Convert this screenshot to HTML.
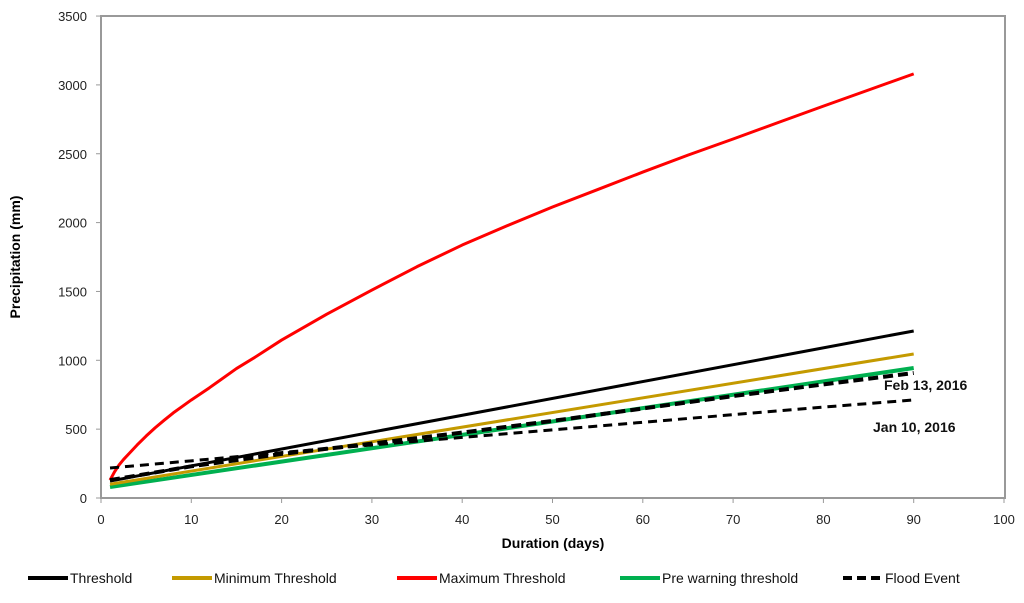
<!DOCTYPE html>
<html><head><meta charset="utf-8"><style>
body{margin:0;background:#fff;}
svg text{font-family:"Liberation Sans",sans-serif;}
</style></head><body>
<svg id="chart" width="1024" height="598">
<rect x="101" y="16" width="904" height="482" fill="none" stroke="#999" stroke-width="2"/>
<g id="axes"></g><g id="series"></g>
<text x="884" y="390" font-size="14" font-weight="bold" fill="#111">Feb 13,  2016</text>
<text x="873" y="432" font-size="14" font-weight="bold" fill="#111">Jan 10,  2016</text>
<text x="553" y="548" font-size="14" font-weight="bold" text-anchor="middle">Duration (days)</text>
<text transform="translate(20,257) rotate(-90)" font-size="14" font-weight="bold" text-anchor="middle">Precipitation (mm)</text>
<g id="legend"></g>
</svg>
<script>
const days = [1,1.5,2,2.5,3,4,5,6,7,8,9,10,12,15,17,20,25,30,35,40,45,50,55,60,65,70,75,80,85,90];
const maxT = [130,190,240,280,315,385,450,510,565,618,665,712,800,940,1020,1147,1335,1510,1680,1837,1978,2113,2240,2367,2490,2607,2727,2846,2963,3080];
const lineDays = [1,90];
const threshold = [123,1213];
const minT = [100,1046];
const preWarn = [80,944];
const febDays = [1,10,20,30,40,50,60,70,80,90];
const feb = [130,230,320,395,475,560,650,740,825,908];
const janDays = [1,10,20,30,40,50,60,70,80,90];
const jan = [218,270,330,385,440,495,550,605,660,712];
const xTicks = [0,10,20,30,40,50,60,70,80,90,100];
const yTicks = [0,500,1000,1500,2000,2500,3000,3500];
const legendLabels = ["Threshold","Minimum Threshold","Maximum Threshold","Pre warning threshold","Flood Event"];

const NS="http://www.w3.org/2000/svg";
const X=d=>101+d*9.03;
const Y=v=>498-v*0.1377;
function mk(tag,attrs,parent){const e=document.createElementNS(NS,tag);for(const k in attrs)e.setAttribute(k,attrs[k]);parent.appendChild(e);return e;}
const axes=document.getElementById('axes');
xTicks.forEach(t=>{
  const l=mk('line',{x1:X(t),x2:X(t),y1:498,y2:503,stroke:'#999'},axes);
  
  
  const tx=mk('text',{x:X(t),y:524,'font-size':13,'text-anchor':'middle',fill:'#222'},axes);
  tx.textContent=t;
  
  
});
yTicks.forEach(t=>{
  const l=mk('line',{x1:96,x2:101,y1:Y(t),y2:Y(t),stroke:'#999'},axes);
  
  
  const tx=mk('text',{x:87,y:Y(t)+5,'font-size':13,'text-anchor':'end',fill:'#222'},axes);
  tx.textContent=t;
  
  
});
const S=document.getElementById('series');
function line(xs,ys,color,w,dash,name){
  const p=mk('polyline',{points:xs.map((d,i)=>X(d)+','+Y(ys[i])).join(' '),fill:'none',stroke:color,'stroke-width':w,'stroke-dasharray':dash||'none','stroke-linejoin':'round'},S);
  
  
}
line(lineDays,preWarn,'#00b050',4,null,'pre-warning-threshold-line');
line(lineDays,minT,'#c49a00',3,null,'minimum-threshold-line');
line(lineDays,threshold,'#000',3,null,'threshold-line');
line(days,maxT,'#ff0000',3,null,'maximum-threshold-line');
line(janDays,jan,'#000',3,'9,6','flood-event-jan-10-line');
line(febDays,feb,'#000',4,'10,5','flood-event-feb-13-line');
const L=document.getElementById('legend');
const lx=[28,172,397,620,843];
const lc=['#000','#c49a00','#ff0000','#00b050','#000'];
legendLabels.forEach((lab,i)=>{
  const g=mk('g',{},L);
  
  
  mk('line',{x1:lx[i],x2:lx[i]+40,y1:578,y2:578,stroke:lc[i],'stroke-width':4,'stroke-dasharray':i==4?'9,5':'none'},g);
  const t=mk('text',{x:lx[i]+42,y:583,'font-size':14,fill:'#111'},g);
  t.textContent=lab;
});
</script>
</body></html>
